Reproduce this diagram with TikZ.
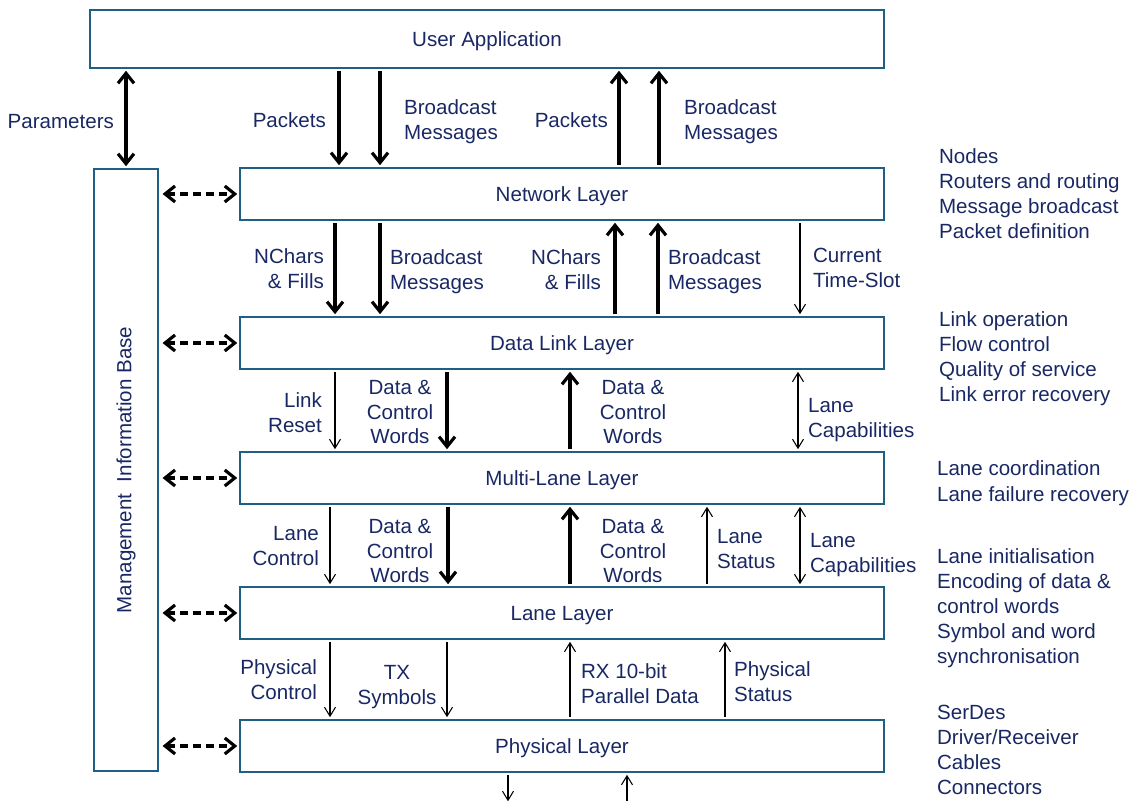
\documentclass[tikz,border=0pt]{standalone}
\usepackage{fontspec}
\setmainfont{Liberation Sans}
\usetikzlibrary{arrows.meta}
\definecolor{txtblue}{RGB}{25,40,100}
\definecolor{boxblue}{RGB}{30,95,130}

\begin{document}
\begin{tikzpicture}[x=0.02cm, y=-0.02cm,
    every node/.style={font=\fontsize{11.7}{14.2}\selectfont, text=txtblue},
    layer/.style={draw=boxblue, line width=1.2pt, minimum width=12.88cm, minimum height=1.04cm, text depth=0pt},
    lbl/.style={inner sep=1pt},
    desc/.style={inner sep=1pt, anchor=west, align=left},
    thk/.style={line width=1.8pt, >={Straight Barb[length=2mm,width=3.2mm]}, shorten <=1pt, shorten >=1pt},
    thn/.style={line width=0.6pt, >={Straight Barb[length=1.8mm,width=2.2mm]}, shorten <=1pt, shorten >=1pt},
    dsh/.style={thk, <->, dash pattern=on 4.5pt off 3pt, shorten <=2pt}]

\useasboundingbox (0,0) rectangle (1134,803);

% layers
\node[layer, minimum width=15.88cm, minimum height=1.16cm] (app) at (487,39) {User Application};
\node[layer] (net) at (562,194) {Network Layer};
\node[layer] (dll) at (562,343) {Data Link Layer};
\node[layer] (mll) at (562,478) {Multi-Lane Layer};
\node[layer] (lane) at (562,613) {Lane Layer};
\node[layer] (phy) at (562,746) {Physical Layer};
\node[layer, minimum width=1.28cm, minimum height=12.04cm] (mib) at (126,470)
    {\rotatebox{90}{Management\ \ Information Base}};

% management links
\draw[dsh] (mib.east |- net.west) -- (net.west);
\draw[dsh] (mib.east |- dll.west) -- (dll.west);
\draw[dsh] (mib.east |- mll.west) -- (mll.west);
\draw[dsh] (mib.east |- lane.west) -- (lane.west);
\draw[dsh] (mib.east |- phy.west) -- (phy.west);

% application <-> network
\draw[thk,<->] (app.south -| mib.north) -- (mib.north);
\draw[thk,->] (app.south -| 339,0) -- (net.north -| 339,0);
\draw[thk,->] (app.south -| 380,0) -- (net.north -| 380,0);
\draw[thk,->] (net.north -| 619,0) -- (app.south -| 619,0);
\draw[thk,->] (net.north -| 659,0) -- (app.south -| 659,0);
\node[lbl, anchor=east] (par) at (116,122) {Parameters};
\node[lbl, anchor=east] (pkt1) at (328,120) {Packets};
\node[lbl, anchor=west, align=left] (bc1) at (402,122) {Broadcast\\Messages};
\node[lbl, anchor=east] (pkt2) at (610,120) {Packets};
\node[lbl, anchor=west, align=left] (bc2) at (682,122) {Broadcast\\Messages};

% network <-> data link
\draw[thk,->] (net.south -| 335,0) -- (dll.north -| 335,0);
\draw[thk,->] (net.south -| 380,0) -- (dll.north -| 380,0);
\draw[thk,->] (dll.north -| 615,0) -- (net.south -| 615,0);
\draw[thk,->] (dll.north -| 658,0) -- (net.south -| 658,0);
\draw[thn,->] (net.south -| 800,0) -- (dll.north -| 800,0);
\node[lbl, anchor=east, align=right] (nc1) at (326,269) {NChars\\\& Fills};
\node[lbl, anchor=west, align=left] (bc3) at (388,272) {Broadcast\\Messages};
\node[lbl, anchor=east, align=right] (nc2) at (603,270) {NChars\\\& Fills};
\node[lbl, anchor=west, align=left] (bc4) at (666,272) {Broadcast\\Messages};
\node[lbl, anchor=west, align=left] (slot) at (811,268) {Current\\Time-Slot};

% data link <-> multi-lane
\draw[thn,->] (dll.south -| 335,0) -- (mll.north -| 335,0);
\draw[thk,->] (dll.south -| 447,0) -- (mll.north -| 447,0);
\draw[thk,->] (mll.north -| 570,0) -- (dll.south -| 570,0);
\draw[thn,<->] (dll.south -| 798,0) -- (mll.north -| 798,0);
\node[lbl, align=right, anchor=east] (rst) at (324,413) {Link\\Reset};
\node[lbl, align=center] (dcw1) at (400,412) {Data \&\\Control\\Words};
\node[lbl, align=center] (dcw2) at (633,412) {Data \&\\Control\\Words};
\node[lbl, anchor=west, align=left] (cap1) at (806,420) {Lane\\Capabilities};

% multi-lane <-> lane
\draw[thn,->] (mll.south -| 330,0) -- (lane.north -| 330,0);
\draw[thk,->] (mll.south -| 448,0) -- (lane.north -| 448,0);
\draw[thk,->] (lane.north -| 570,0) -- (mll.south -| 570,0);
\draw[thn,->] (lane.north -| 707,0) -- (mll.south -| 707,0);
\draw[thn,<->] (mll.south -| 800,0) -- (lane.north -| 800,0);
\node[lbl, align=right, anchor=east] (lctl) at (321,546) {Lane\\Control};
\node[lbl, align=center] (dcw3) at (400,551) {Data \&\\Control\\Words};
\node[lbl, align=center] (dcw4) at (633,551) {Data \&\\Control\\Words};
\node[lbl, anchor=west, align=left] (lst) at (715,549) {Lane\\Status};
\node[lbl, anchor=west, align=left] (cap2) at (808,555) {Lane\\Capabilities};

% lane <-> physical
\draw[thn,->] (lane.south -| 330,0) -- (phy.north -| 330,0);
\draw[thn,->] (lane.south -| 447,0) -- (phy.north -| 447,0);
\draw[thn,->] (phy.north -| 570,0) -- (lane.south -| 570,0);
\draw[thn,->] (phy.north -| 725,0) -- (lane.south -| 725,0);
\node[lbl, align=right, anchor=east] (pctl) at (319,680) {Physical\\Control};
\node[lbl, align=center] (tx) at (397,687) {TX\\Symbols};
\node[lbl, anchor=west, align=left] (rx) at (579,684) {RX 10-bit\\Parallel Data};
\node[lbl, anchor=west, align=left] (pst) at (732,682) {Physical\\Status};

% physical <-> medium
\coordinate (txout) at (508,803);
\coordinate (rxin) at (627,803);
\draw[thn,->] (phy.south -| txout) -- (txout);
\draw[thn,->] (rxin) -- (phy.south -| rxin);

% layer functions
\node[desc] (fnet) at (937,194) {Nodes\\Routers and routing\\Message broadcast\\Packet definition};
\node[desc] (fdll) at (937,359) {Link operation\\Flow control\\Quality of service\\Link error recovery};
\node[desc, text depth=0pt] (fmll) at (935,481) {Lane coordination\\[1pt]Lane failure recovery};
\node[desc] (flane) at (935,608) {Lane initialisation\\Encoding of data \&\\control words\\Symbol and word\\synchronisation};
\node[desc] (fphy) at (935,750) {SerDes\\Driver/Receiver\\Cables\\Connectors};
\end{tikzpicture}
\end{document}
